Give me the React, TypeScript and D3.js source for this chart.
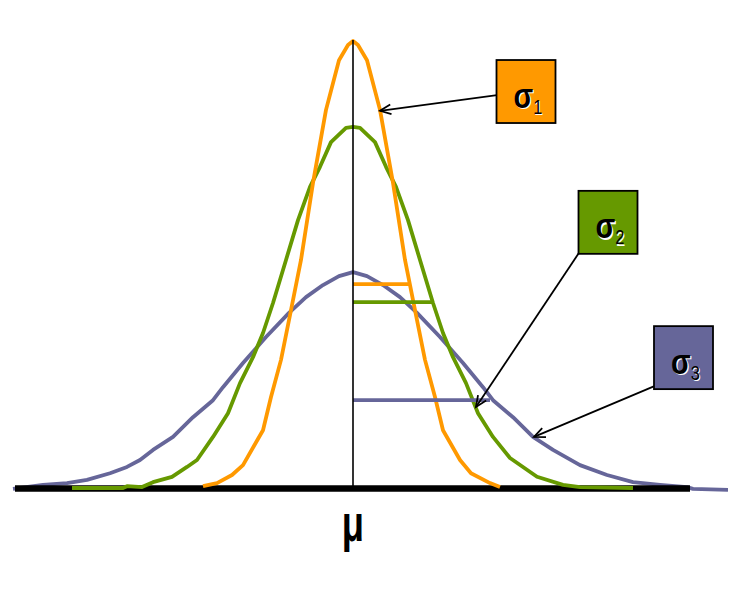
import React from "react";
import * as d3 from "d3";

// Curves: [x offset from mu (in units), height (relative density)]
const sigma1Curve: [number, number][] = [
  [-1.5, 0.004], [-1.36, 0.011], [-1.21, 0.029], [-1.1, 0.051], [-0.9, 0.129], [-0.82, 0.203],
  [-0.72, 0.286], [-0.62, 0.397], [-0.52, 0.509], [-0.4, 0.681], [-0.27, 0.844], [-0.14, 0.955],
  [-0.05, 0.989], [0, 0.998], [0.05, 0.989], [0.14, 0.955], [0.27, 0.844], [0.4, 0.681],
  [0.52, 0.509], [0.62, 0.397], [0.72, 0.286], [0.82, 0.203], [0.9, 0.129], [1.07, 0.0625],
  [1.18, 0.033], [1.37, 0.011], [1.47, 0.002],
];
const sigma2Curve: [number, number][] = [
  [-2.81, 0], [-2.3, 0], [-2.26, 0.004], [-2.11, 0.002], [-2.0, 0.013], [-1.81, 0.025],
  [-1.66, 0.047], [-1.56, 0.0625], [-1.4, 0.114], [-1.25, 0.167], [-1.13, 0.234], [-1.0, 0.292],
  [-0.9, 0.346], [-0.8, 0.413], [-0.67, 0.509], [-0.55, 0.598], [-0.43, 0.672], [-0.33, 0.717],
  [-0.22, 0.772], [-0.07, 0.804], [0, 0.806], [0.07, 0.804], [0.22, 0.772], [0.33, 0.717],
  [0.43, 0.672], [0.55, 0.598], [0.67, 0.509], [0.8, 0.413], [0.9, 0.346], [1.0, 0.292],
  [1.13, 0.234], [1.25, 0.167], [1.4, 0.114], [1.57, 0.067], [1.84, 0.025], [2.1, 0.007],
  [2.27, 0.002], [2.8, 0],
];
const sigma3Curve: [number, number][] = [
  [-3.4, -0.002], [-3.1, 0.007], [-2.86, 0.011], [-2.66, 0.018], [-2.43, 0.033], [-2.26, 0.047],
  [-2.13, 0.0625], [-2.0, 0.085], [-1.8, 0.114], [-1.6, 0.158], [-1.4, 0.196], [-1.3, 0.225],
  [-1.1, 0.279], [-0.87, 0.337], [-0.64, 0.391], [-0.47, 0.426], [-0.3, 0.453], [-0.14, 0.473],
  [0, 0.482], [0.14, 0.473], [0.3, 0.453], [0.47, 0.426], [0.64, 0.391], [0.87, 0.337],
  [1.1, 0.279], [1.3, 0.225], [1.4, 0.196], [1.6, 0.158], [1.8, 0.114], [2.0, 0.085],
  [2.27, 0.051], [2.54, 0.029], [2.8, 0.013], [3.07, 0.007], [3.34, 0.002], [3.4, -0.002],
  [3.75, -0.004],
];

// Horizontal sigma marker levels (height) and their right extent (x)
const markerLevels = [0.455, 0.415, 0.196];
const markerExtents = [0.56, 0.79, 1.37];

// Label annotations (data coordinates)
const labelNames = ["1", "2", "3"];
const labelCenterX = [1.73, 2.55, 3.305];
const labelCenterY = [0.885, 0.593, 0.291];
const arrowStartX = [1.44, 2.26, 3.02];
const arrowStartY = [0.877, 0.525, 0.228];
const arrowTipX = [0.27, 1.23, 1.81];
const arrowTipY = [0.842, 0.181, 0.114];

const colors = ["#FF9900", "#669900", "#666699"];
const baselineExtent = [-3.38, 3.37];

export default function App() {
  const W = 741;
  const H = 597;
  const x = d3.scaleLinear().domain([-3.5, 3.9]).range([3, 743]);
  const y = d3.scaleLinear().domain([0, 1]).range([488, 40]);
  const line = d3
    .line<[number, number]>()
    .x((d) => x(d[0]))
    .y((d) => y(d[1]));

  const curves = [sigma1Curve, sigma2Curve, sigma3Curve];
  const SW = 3.8;

  const arrow = (i: number) => {
    const x1 = x(arrowStartX[i]);
    const y1 = y(arrowStartY[i]);
    const x2 = x(arrowTipX[i]);
    const y2 = y(arrowTipY[i]);
    const ang = Math.atan2(y1 - y2, x1 - x2);
    const L = 12;
    const a = 0.42;
    const p1 = [x2 + L * Math.cos(ang + a), y2 + L * Math.sin(ang + a)];
    const p2 = [x2 + L * Math.cos(ang - a), y2 + L * Math.sin(ang - a)];
    return (
      <g key={"a" + i} stroke="#000" strokeWidth={1.8} fill="none">
        <line x1={x1} y1={y1} x2={x2} y2={y2} />
        <polyline points={`${p1[0]},${p1[1]} ${x2},${y2} ${p2[0]},${p2[1]}`} />
      </g>
    );
  };

  const label = (i: number) => {
    const cx = x(labelCenterX[i]);
    const cy = y(labelCenterY[i]);
    const bw = 59;
    const bh = 63;
    const tx = cx + 2;
    const txt = (fill: string, d: number) => (
      <text
        x={tx + d}
        y={cy + 16 + d}
        textAnchor="middle"
        fontFamily="Liberation Sans, Arial, sans-serif"
        fontWeight="bold"
        fontSize={35}
        fill={fill}
        transform={`translate(${tx},0) scale(0.82,1) translate(${-tx},0)`}
      >
        σ
        <tspan fontSize={20} fontWeight="normal" dy={6}>
          {labelNames[i]}
        </tspan>
      </text>
    );
    return (
      <g key={"l" + i}>
        <rect
          x={cx - bw / 2}
          y={cy - bh / 2}
          width={bw}
          height={bh}
          fill={colors[i]}
          stroke="#000"
          strokeWidth={1.8}
        />
        {txt("#fff", 1.3)}
        {txt("#000", 0)}
      </g>
    );
  };

  return (
    <svg
      width={W}
      height={H}
      style={{ position: "absolute", left: 0, top: 0, background: "#fff" }}
    >
      <rect width={W} height={H} fill="#fff" />
      {/* sigma3 curve behind baseline */}
      <path d={line(sigma3Curve) || ""} fill="none" stroke={colors[2]} strokeWidth={SW} strokeLinejoin="round" />
      <line
        x1={x(baselineExtent[0])}
        x2={x(baselineExtent[1])}
        y1={y(0) + 0.5}
        y2={y(0) + 0.5}
        stroke="#000"
        strokeWidth={6.5}
      />
      <path d={line(curves[1]) || ""} fill="none" stroke={colors[1]} strokeWidth={SW} strokeLinejoin="round" />
      <path d={line(curves[0]) || ""} fill="none" stroke={colors[0]} strokeWidth={SW} strokeLinejoin="round" />
      {markerLevels.map((lv, i) => (
        <line
          key={"m" + i}
          x1={x(0)}
          x2={x(markerExtents[i])}
          y1={y(lv)}
          y2={y(lv)}
          stroke={colors[i]}
          strokeWidth={SW}
        />
      ))}
      <line x1={x(0)} x2={x(0)} y1={y(0)} y2={y(1)} stroke="#000" strokeWidth={1.6} />
      {[0, 1, 2].map((i) => arrow(i))}
      {[0, 1, 2].map((i) => label(i))}
      <text
        x={x(0)}
        y={541}
        textAnchor="middle"
        fontFamily="Liberation Sans, Arial, sans-serif"
        fontWeight="bold"
        fontSize={52}
        transform={`translate(${x(0)},0) scale(0.7,1) translate(${-x(0)},0)`}
      >
        μ
      </text>
    </svg>
  );
}
